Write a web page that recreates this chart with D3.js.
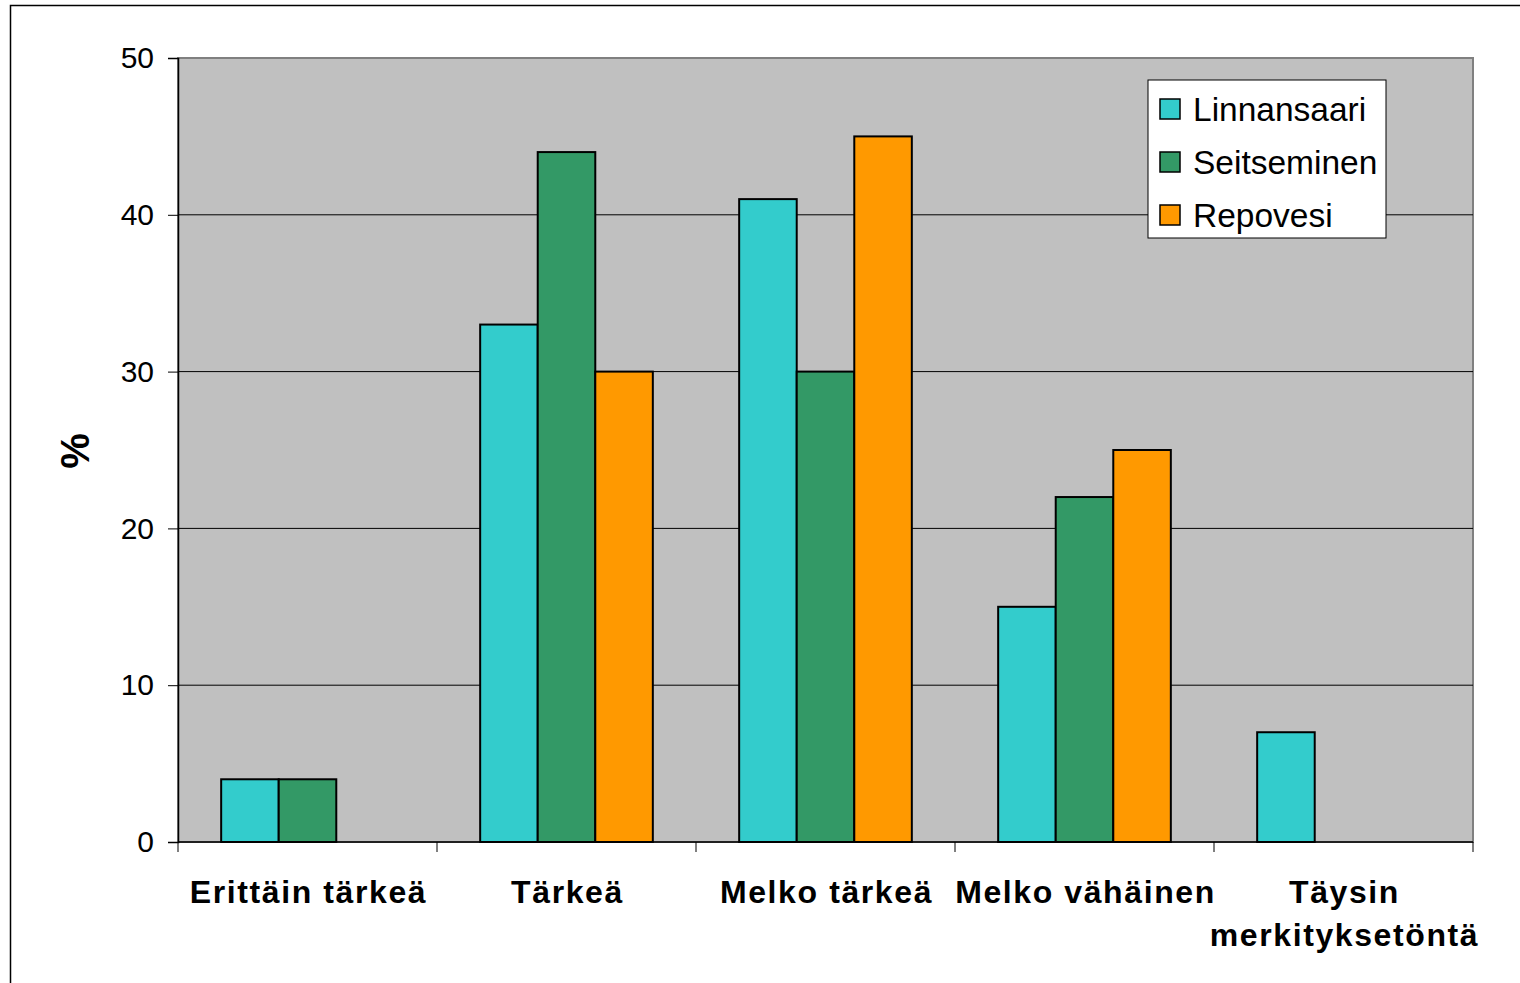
<!DOCTYPE html>
<html>
<head>
<meta charset="utf-8">
<script src="https://cdn.jsdelivr.net/npm/d3@7"></script>
<style>
    body { margin: 0; background: #fff; }
    svg { display: block; font-family: "Liberation Sans", Arial, sans-serif; }
</style>
</head>
<body>
<svg id="chart" width="1520" height="983"></svg>
<script>
// values
const categories = ["Erittäin tärkeä", "Tärkeä", "Melko tärkeä", "Melko vähäinen", "Täysin merkityksetöntä"];
const category_lines = [["Erittäin tärkeä"], ["Tärkeä"], ["Melko tärkeä"], ["Melko vähäinen"], ["Täysin", "merkityksetöntä"]];
const series_names = ["Linnansaari", "Seitseminen", "Repovesi"];
const linnansaari = [4, 33, 41, 15, 7];
const seitseminen = [4, 44, 30, 22, 0];
const repovesi = [0, 30, 45, 25, 0];
const y_ticks = [0, 10, 20, 30, 40, 50];
const series_colors = ["#33cccc", "#339966", "#ff9900"];

const series_values = [linnansaari, seitseminen, repovesi];

const svg = d3.select("#chart");

// outer frame
svg.append("rect")
    .attr("x", 10.5).attr("y", 5.5)
    .attr("width", 1530).attr("height", 1000)
    .attr("fill", "none").attr("stroke", "#000").attr("stroke-width", 1.5);

const plotLeft = 178, plotRight = 1473, plotTop = 58, plotBottom = 842;

const X = d3.scaleBand().domain(categories).range([plotLeft, plotRight]);
const inner = d3.scaleBand().domain(series_names)
    .range([X.bandwidth() / 6, X.bandwidth() * 5 / 6]);
const Y = d3.scaleLinear().domain([0, 50]).range([plotBottom, plotTop]);

// plot background
svg.append("rect")
    .attr("x", plotLeft).attr("y", plotTop)
    .attr("width", plotRight - plotLeft).attr("height", plotBottom - plotTop)
    .attr("fill", "#c0c0c0")
    .attr("stroke", "#808080").attr("stroke-width", 2);

// gridlines
svg.append("g")
    .selectAll("line")
    .data(y_ticks.filter(t => t > 0 && t < 50))
    .enter()
    .append("line")
    .attr("x1", plotLeft).attr("x2", plotRight)
    .attr("y1", d => Y(d)).attr("y2", d => Y(d))
    .attr("stroke", "#000").attr("stroke-width", 1);

// bars
const rows = [];
categories.forEach(function (c, i) {
    series_names.forEach(function (s, j) {
        if (series_values[j][i] > 0) {
            rows.push({ cat: c, series: s, value: series_values[j][i], color: series_colors[j] });
        }
    });
});

svg.append("g")
    .selectAll("rect")
    .data(rows)
    .enter()
    .append("rect")
    .attr("x", d => X(d.cat) + inner(d.series))
    .attr("y", d => Y(d.value))
    .attr("width", inner.bandwidth())
    .attr("height", d => Y(0) - Y(d.value))
    .attr("fill", d => d.color)
    .attr("stroke", "#000").attr("stroke-width", 2);

// y axis
const yAxis = svg.append("g")
    .attr("transform", `translate(${plotLeft},0)`)
    .call(d3.axisLeft(Y).tickValues(y_ticks).tickSize(10).tickPadding(14));
yAxis.select(".domain").attr("stroke", "#000").attr("stroke-width", 1.5);
yAxis.selectAll("line").attr("stroke", "#000");
yAxis.selectAll("text")
    .attr("font-size", 30).attr("fill", "#000")
    .attr("font-family", "Liberation Sans, Arial, sans-serif");

// x axis
const boundaries = categories.map(c => X(c)).concat([plotRight]);
svg.append("line")
    .attr("x1", plotLeft).attr("x2", plotRight)
    .attr("y1", plotBottom).attr("y2", plotBottom)
    .attr("stroke", "#000").attr("stroke-width", 1.5);
svg.append("g")
    .selectAll("line")
    .data(boundaries)
    .enter()
    .append("line")
    .attr("x1", d => d).attr("x2", d => d)
    .attr("y1", plotBottom).attr("y2", plotBottom + 10)
    .attr("stroke", "#000");

const xLabels = svg.append("g")
    .selectAll("text")
    .data(categories)
    .enter()
    .append("text")
    .attr("text-anchor", "middle")
    .attr("font-size", 32).attr("font-weight", "bold")
    .attr("letter-spacing", 1.6)
    .attr("fill", "#000");
xLabels.each(function (c, i) {
    const t = d3.select(this);
    category_lines[i].forEach(function (line, k) {
        t.append("tspan")
            .attr("x", X(c) + X.bandwidth() / 2 + 1)
            .attr("y", 903 + k * 43)
            .text(line);
    });
});

// y title
svg.append("text")
    .attr("transform", "translate(89,451) rotate(-90)")
    .attr("text-anchor", "middle")
    .attr("font-size", 40).attr("font-weight", "bold")
    .text("%");

// legend
const legend = svg.append("g").attr("transform", "translate(1148,80)");
legend.append("rect")
    .attr("width", 238).attr("height", 158)
    .attr("fill", "#fff").attr("stroke", "#000").attr("stroke-width", 1);
const items = legend.selectAll("g.item")
    .data(series_names)
    .enter()
    .append("g")
    .attr("class", "item")
    .attr("transform", (d, i) => `translate(0,${29 + i * 53})`);
items.append("rect")
    .attr("x", 12).attr("y", -10)
    .attr("width", 20).attr("height", 20)
    .attr("fill", (d, i) => series_colors[i])
    .attr("stroke", "#000").attr("stroke-width", 1.5);
items.append("text")
    .attr("x", 45).attr("y", 12)
    .attr("font-size", 33.5)
    .text(d => d);
</script>
</body>
</html>
